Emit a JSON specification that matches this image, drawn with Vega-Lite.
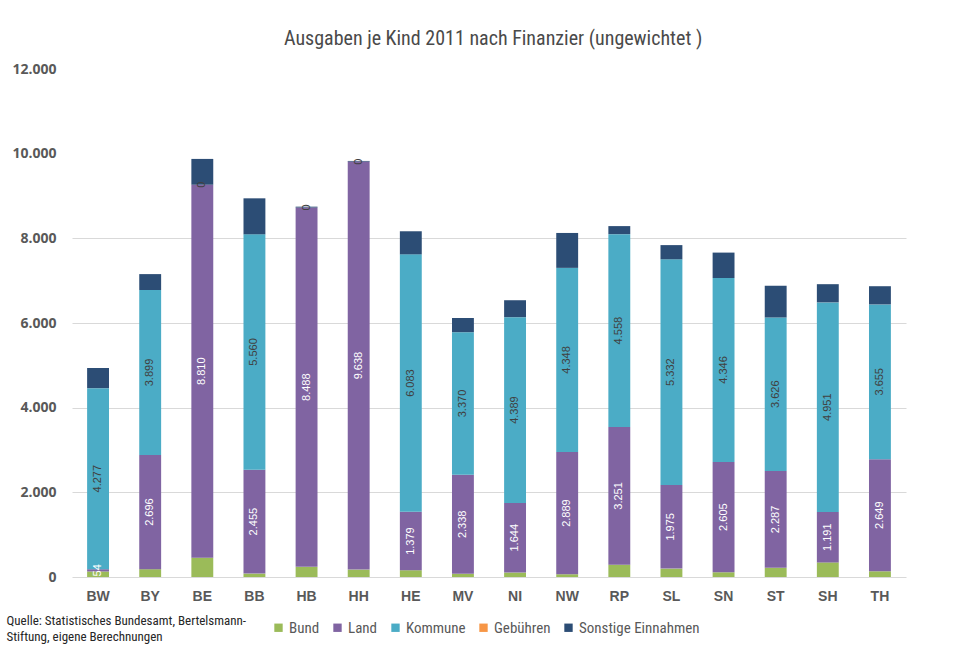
{
  "$schema": "https://vega.github.io/schema/vega-lite/v6.json",
  "autosize": "none",
  "width": 890,
  "height": 508,
  "padding": {"left": 72, "top": 69, "right": 5, "bottom": 68},
  "background": "white",
  "title": {
    "text": "Ausgaben je Kind 2011 nach Finanzier (ungewichtet )",
    "font": "Liberation Sans Narrow, Roboto Condensed, Roboto",
    "fontSize": 20,
    "fontWeight": "normal",
    "color": "#4a4a4a",
    "anchor": "start",
    "dx": 278,
    "offset": 13
  },
  "config": {
    "view": {"stroke": null},
    "locale": {"number": {"decimal": ",", "thousands": ".", "grouping": [3], "currency": ["", " €"]}}
  },
  "data": {
    "values": [
      {"state": "BW", "series": "Bund", "k": 1, "value": 130},
      {"state": "BW", "series": "Land", "k": 2, "value": 54},
      {"state": "BW", "series": "Kommune", "k": 3, "value": 4277},
      {"state": "BW", "series": "Gebühren", "k": 4, "value": 0},
      {"state": "BW", "series": "Sonstige Einnahmen", "k": 5, "value": 476},
      {"state": "BY", "series": "Bund", "k": 1, "value": 185},
      {"state": "BY", "series": "Land", "k": 2, "value": 2696},
      {"state": "BY", "series": "Kommune", "k": 3, "value": 3899},
      {"state": "BY", "series": "Gebühren", "k": 4, "value": 0},
      {"state": "BY", "series": "Sonstige Einnahmen", "k": 5, "value": 375},
      {"state": "BE", "series": "Bund", "k": 1, "value": 456},
      {"state": "BE", "series": "Land", "k": 2, "value": 8810},
      {"state": "BE", "series": "Kommune", "k": 3, "value": 0},
      {"state": "BE", "series": "Gebühren", "k": 4, "value": 0},
      {"state": "BE", "series": "Sonstige Einnahmen", "k": 5, "value": 610},
      {"state": "BB", "series": "Bund", "k": 1, "value": 80},
      {"state": "BB", "series": "Land", "k": 2, "value": 2455},
      {"state": "BB", "series": "Kommune", "k": 3, "value": 5560},
      {"state": "BB", "series": "Gebühren", "k": 4, "value": 0},
      {"state": "BB", "series": "Sonstige Einnahmen", "k": 5, "value": 850},
      {"state": "HB", "series": "Bund", "k": 1, "value": 240},
      {"state": "HB", "series": "Land", "k": 2, "value": 8488},
      {"state": "HB", "series": "Kommune", "k": 3, "value": 0},
      {"state": "HB", "series": "Gebühren", "k": 4, "value": 0},
      {"state": "HB", "series": "Sonstige Einnahmen", "k": 5, "value": 20},
      {"state": "HH", "series": "Bund", "k": 1, "value": 175},
      {"state": "HH", "series": "Land", "k": 2, "value": 9638},
      {"state": "HH", "series": "Kommune", "k": 3, "value": 0},
      {"state": "HH", "series": "Gebühren", "k": 4, "value": 0},
      {"state": "HH", "series": "Sonstige Einnahmen", "k": 5, "value": 15},
      {"state": "HE", "series": "Bund", "k": 1, "value": 160},
      {"state": "HE", "series": "Land", "k": 2, "value": 1379},
      {"state": "HE", "series": "Kommune", "k": 3, "value": 6083},
      {"state": "HE", "series": "Gebühren", "k": 4, "value": 0},
      {"state": "HE", "series": "Sonstige Einnahmen", "k": 5, "value": 545},
      {"state": "MV", "series": "Bund", "k": 1, "value": 75},
      {"state": "MV", "series": "Land", "k": 2, "value": 2338},
      {"state": "MV", "series": "Kommune", "k": 3, "value": 3370},
      {"state": "MV", "series": "Gebühren", "k": 4, "value": 0},
      {"state": "MV", "series": "Sonstige Einnahmen", "k": 5, "value": 335},
      {"state": "NI", "series": "Bund", "k": 1, "value": 105},
      {"state": "NI", "series": "Land", "k": 2, "value": 1644},
      {"state": "NI", "series": "Kommune", "k": 3, "value": 4389},
      {"state": "NI", "series": "Gebühren", "k": 4, "value": 0},
      {"state": "NI", "series": "Sonstige Einnahmen", "k": 5, "value": 400},
      {"state": "NW", "series": "Bund", "k": 1, "value": 65},
      {"state": "NW", "series": "Land", "k": 2, "value": 2889},
      {"state": "NW", "series": "Kommune", "k": 3, "value": 4348},
      {"state": "NW", "series": "Gebühren", "k": 4, "value": 0},
      {"state": "NW", "series": "Sonstige Einnahmen", "k": 5, "value": 825},
      {"state": "RP", "series": "Bund", "k": 1, "value": 290},
      {"state": "RP", "series": "Land", "k": 2, "value": 3251},
      {"state": "RP", "series": "Kommune", "k": 3, "value": 4558},
      {"state": "RP", "series": "Gebühren", "k": 4, "value": 0},
      {"state": "RP", "series": "Sonstige Einnahmen", "k": 5, "value": 190},
      {"state": "SL", "series": "Bund", "k": 1, "value": 198},
      {"state": "SL", "series": "Land", "k": 2, "value": 1975},
      {"state": "SL", "series": "Kommune", "k": 3, "value": 5332},
      {"state": "SL", "series": "Gebühren", "k": 4, "value": 0},
      {"state": "SL", "series": "Sonstige Einnahmen", "k": 5, "value": 335},
      {"state": "SN", "series": "Bund", "k": 1, "value": 112},
      {"state": "SN", "series": "Land", "k": 2, "value": 2605},
      {"state": "SN", "series": "Kommune", "k": 3, "value": 4346},
      {"state": "SN", "series": "Gebühren", "k": 4, "value": 0},
      {"state": "SN", "series": "Sonstige Einnahmen", "k": 5, "value": 600},
      {"state": "ST", "series": "Bund", "k": 1, "value": 217},
      {"state": "ST", "series": "Land", "k": 2, "value": 2287},
      {"state": "ST", "series": "Kommune", "k": 3, "value": 3626},
      {"state": "ST", "series": "Gebühren", "k": 4, "value": 0},
      {"state": "ST", "series": "Sonstige Einnahmen", "k": 5, "value": 750},
      {"state": "SH", "series": "Bund", "k": 1, "value": 345},
      {"state": "SH", "series": "Land", "k": 2, "value": 1191},
      {"state": "SH", "series": "Kommune", "k": 3, "value": 4951},
      {"state": "SH", "series": "Gebühren", "k": 4, "value": 0},
      {"state": "SH", "series": "Sonstige Einnahmen", "k": 5, "value": 430},
      {"state": "TH", "series": "Bund", "k": 1, "value": 135},
      {"state": "TH", "series": "Land", "k": 2, "value": 2649},
      {"state": "TH", "series": "Kommune", "k": 3, "value": 3655},
      {"state": "TH", "series": "Gebühren", "k": 4, "value": 0},
      {"state": "TH", "series": "Sonstige Einnahmen", "k": 5, "value": 430}
    ]
  },
  "encoding": {
    "x": {
      "field": "state",
      "type": "nominal",
      "sort": null,
      "scale": {"range": [0, 834], "paddingInner": 0.58, "paddingOuter": 0.29},
      "axis": {
        "labelAngle": 0,
        "labelFont": "Liberation Sans, Arial",
        "labelFontSize": 14,
        "labelFontWeight": "bold",
        "labelColor": "#595959",
        "labelPadding": 12,
        "domain": false,
        "ticks": false,
        "title": ["Quelle:  Statistisches Bundesamt, Bertelsmann-", "Stiftung, eigene Berechnungen"],
        "titleFont": "Liberation Sans Narrow, Roboto Condensed, Roboto",
        "titleFontSize": 13,
        "titleFontWeight": "normal",
        "titleColor": "#262626",
        "titleAnchor": "start",
        "titleAlign": "left",
        "titleBaseline": "top",
        "titleLineHeight": 16,
        "titleX": -66,
        "titleY": 37
      }
    },
    "y": {
      "field": "value",
      "type": "quantitative",
      "stack": "zero",
      "scale": {"domain": [0, 12000], "nice": false},
      "axis": {
        "values": [0, 2000, 4000, 6000, 8000, 10000, 12000],
        "format": ",.0f",
        "title": null,
        "domain": false,
        "ticks": false,
        "labelFont": "Open Sans, Liberation Sans",
        "labelFontSize": 14,
        "labelFontWeight": "bold",
        "labelColor": "#595959",
        "labelPadding": 16,
        "gridColor": "#d9d9d9",
        "gridWidth": 1,
        "gridOpacity": {"condition": {"test": "datum.value > 8000", "value": 0}, "value": 1}
      }
    },
    "order": {"field": "k", "type": "quantitative"}
  },
  "layer": [
    {
      "mark": {"type": "bar"},
      "encoding": {
        "color": {
          "field": "series",
          "type": "nominal",
          "scale": {
            "domain": ["Bund", "Land", "Kommune", "Gebühren", "Sonstige Einnahmen"],
            "range": ["#9bbb59", "#8064a2", "#4bacc6", "#f79646", "#2c4d75"]
          },
          "legend": {
            "title": null,
            "orient": "none",
            "direction": "horizontal",
            "legendX": 199,
            "legendY": 551,
            "symbolType": "square",
            "symbolSize": 70,
            "symbolStrokeWidth": 0,
            "labelFont": "Liberation Sans Narrow, Roboto Condensed, Roboto",
            "labelFontSize": 15,
            "labelColor": "#595959",
            "labelOffset": 3,
            "columnPadding": 10
          }
        }
      }
    },
    {
      "mark": {"type": "text", "angle": 270, "font": "Liberation Sans, Arial", "fontSize": 11, "baseline": "middle", "align": "center"},
      "encoding": {
        "y": {"field": "value", "type": "quantitative", "stack": "zero", "bandPosition": 0.5},
        "text": {
          "condition": {"test": "datum.series === 'Land' || datum.series === 'Kommune'", "field": "value", "type": "quantitative", "format": ",.0f"},
          "value": ""
        },
        "color": {
          "condition": {"test": "datum.series === 'Land'", "value": "white"},
          "value": "#404040"
        }
      }
    }
  ]
}
